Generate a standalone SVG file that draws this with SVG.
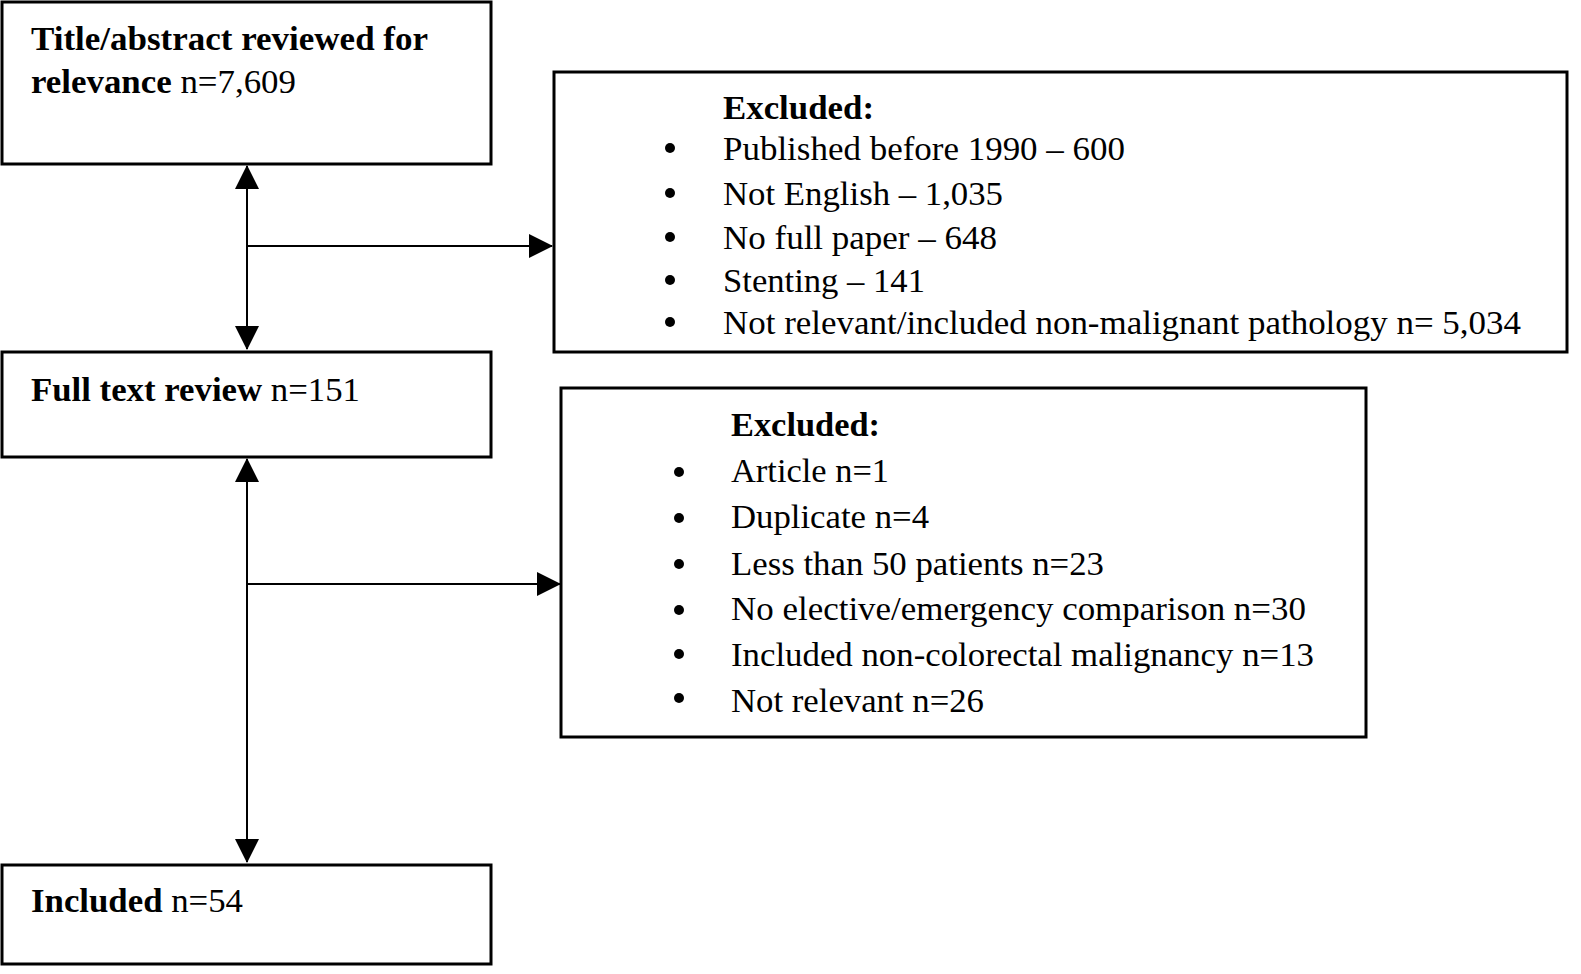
<svg xmlns="http://www.w3.org/2000/svg" width="1581" height="974" viewBox="0 0 1581 974">
<style>
.box{fill:#fff;stroke:#000;stroke-width:3}
.t{font-family:"Liberation Serif","Times New Roman",serif;font-size:34px;fill:#000}
.b{font-weight:bold}
.e{font-family:"Liberation Serif","Times New Roman",serif;font-size:33px;fill:#000}
.c{stroke:#000;stroke-width:2;fill:none}
.dot{fill:#000}
</style>
<defs>
<marker id="ah" markerUnits="userSpaceOnUse" markerWidth="24" markerHeight="24" viewBox="0 0 24 24" refX="23" refY="12" orient="auto">
<path d="M0,0 L24,12 L0,24 Z" fill="#000"/>
</marker>
</defs>
<rect width="1581" height="974" fill="#fff"/>
<g id="connectors">
<line class="c" x1="247" y1="257" x2="247" y2="166" marker-end="url(#ah)"/>
<line class="c" x1="247" y1="240" x2="247" y2="349" marker-end="url(#ah)"/>
<line class="c" x1="247" y1="246" x2="552" y2="246" marker-end="url(#ah)"/>
<line class="c" x1="247" y1="600" x2="247" y2="459" marker-end="url(#ah)"/>
<line class="c" x1="247" y1="580" x2="247" y2="862" marker-end="url(#ah)"/>
<line class="c" x1="247" y1="584" x2="560" y2="584" marker-end="url(#ah)"/>
</g>
<g id="node-title">
<rect class="box" x="2" y="2" width="489" height="162"/>
<text class="t b" x="31" y="50" textLength="397" lengthAdjust="spacingAndGlyphs">Title/abstract reviewed for</text>
<text class="t" x="31" y="93" textLength="265" lengthAdjust="spacingAndGlyphs"><tspan class="b">relevance</tspan> n=7,609</text>
</g>
<g id="node-fulltext">
<rect class="box" x="2" y="352" width="489" height="105"/>
<text class="t" x="31" y="401" textLength="329" lengthAdjust="spacingAndGlyphs"><tspan class="b">Full text review</tspan> n=151</text>
</g>
<g id="node-included">
<rect class="box" x="2" y="865" width="489" height="99"/>
<text class="t" x="31" y="912" textLength="212" lengthAdjust="spacingAndGlyphs"><tspan class="b">Included</tspan> n=54</text>
</g>
<g id="node-excluded1">
<rect class="box" x="554" y="72" width="1013" height="280"/>
<text class="e b" x="723" y="119" textLength="151" lengthAdjust="spacingAndGlyphs">Excluded:</text>
<circle class="dot" cx="670" cy="148" r="5"/>
<text class="e" x="723" y="160" textLength="402" lengthAdjust="spacingAndGlyphs">Published before 1990 – 600</text>
<circle class="dot" cx="670" cy="193" r="5"/>
<text class="e" x="723" y="205" textLength="280" lengthAdjust="spacingAndGlyphs">Not English – 1,035</text>
<circle class="dot" cx="670" cy="237" r="5"/>
<text class="e" x="723" y="249" textLength="274" lengthAdjust="spacingAndGlyphs">No full paper – 648</text>
<circle class="dot" cx="670" cy="280" r="5"/>
<text class="e" x="723" y="292" textLength="202" lengthAdjust="spacingAndGlyphs">Stenting – 141</text>
<circle class="dot" cx="670" cy="322" r="5"/>
<text class="e" x="723" y="334" textLength="798" lengthAdjust="spacingAndGlyphs">Not relevant/included non-malignant pathology n= 5,034</text>
</g>
<g id="node-excluded2">
<rect class="box" x="561" y="388" width="805" height="349"/>
<text class="e b" x="731" y="436" textLength="149" lengthAdjust="spacingAndGlyphs">Excluded:</text>
<circle class="dot" cx="679" cy="472" r="5"/>
<text class="e" x="731" y="482" textLength="158" lengthAdjust="spacingAndGlyphs">Article n=1</text>
<circle class="dot" cx="679" cy="518" r="5"/>
<text class="e" x="731" y="528" textLength="198" lengthAdjust="spacingAndGlyphs">Duplicate n=4</text>
<circle class="dot" cx="679" cy="564" r="5"/>
<text class="e" x="731" y="575" textLength="373" lengthAdjust="spacingAndGlyphs">Less than 50 patients n=23</text>
<circle class="dot" cx="679" cy="610" r="5"/>
<text class="e" x="731" y="620" textLength="575" lengthAdjust="spacingAndGlyphs">No elective/emergency comparison n=30</text>
<circle class="dot" cx="679" cy="654" r="5"/>
<text class="e" x="731" y="666" textLength="583" lengthAdjust="spacingAndGlyphs">Included non-colorectal malignancy n=13</text>
<circle class="dot" cx="679" cy="698" r="5"/>
<text class="e" x="731" y="712" textLength="253" lengthAdjust="spacingAndGlyphs">Not relevant n=26</text>
</g>
</svg>
